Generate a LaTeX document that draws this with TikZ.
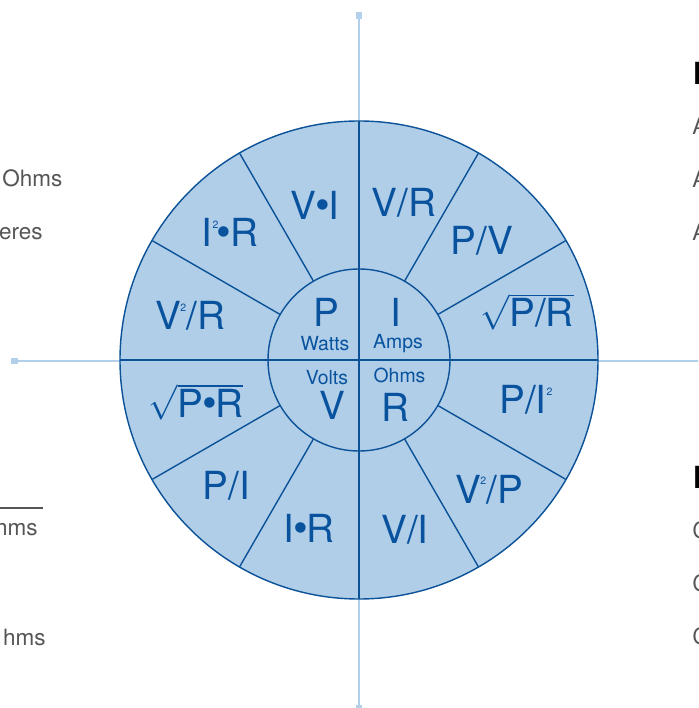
\documentclass[tikz,border=0pt]{standalone}
\usepackage{fontspec}
\setmainfont{TeX Gyre Heros}

\definecolor{wheelfill}{RGB}{176,206,232}
\definecolor{wheelline}{RGB}{12,82,152}
\definecolor{wheeltext}{RGB}{8,82,158}
\definecolor{axisblue}{RGB}{178,208,234}
\definecolor{bodygray}{RGB}{85,85,85}

% little raised 2, centred dot and root for the formulas
\newcommand{\twosup}{\raisebox{13.5pt}{\fontsize{7.5}{7.5}\selectfont 2}}
\newcommand{\blob}{\kern-1pt\raisebox{0pt}{\fontsize{30}{30}\selectfont\textbullet}\kern-1pt}
\newcommand{\rootof}[1]{$\sqrt{\mbox{#1}}$}

\tikzset{
  big/.style={text=wheeltext, anchor=base, inner sep=0pt,
    font=\fontsize{27.5}{27.5}\selectfont},
  unit/.style={text=wheeltext, anchor=base, inner sep=0pt,
    font=\fontsize{13.8}{13.8}\selectfont},
  side/.style={text=bodygray, inner sep=0pt,
    font=\fontsize{16}{16}\selectfont},
  head/.style={text=black, inner sep=0pt, anchor=base west,
    font=\fontsize{21.7}{21.7}\selectfont\bfseries},
  rim/.style={wheelline, line width=1pt}
}

\begin{document}
\begin{tikzpicture}[x=0.025cm,y=0.025cm]

\useasboundingbox (-359,-348) rectangle (339,360);
\clip (-359,-348) rectangle (339,360);

% axes behind the wheel
\draw[axisblue, line width=1.4pt] (0,-350) -- (0,344);
\draw[axisblue, line width=1.4pt] (-345,-1) -- (345,-1);
\fill[axisblue] (-3.4,341.3) rectangle (3.4,348.1);
\fill[axisblue] (-348.1,-4.4) rectangle (-341.3,2.4);
\fill[axisblue] (-3.4,-352) rectangle (3.4,-345);

% the wheel
\draw[rim, fill=wheelfill] (0,0) circle (239);
\foreach \a in {30,60,120,150,210,240,300,330}
  \draw[rim] (\a:91) -- (\a:239);
\draw[rim] (-239,0) -- (239,0);
\draw[rim] (0,-239) -- (0,239);
\draw[rim] (0,0) circle (91);

% centre quarters
\node[big] (p) at (-33,33) {P};
\node[unit] (watts) at (-34,9) {Watts};
\node[big] (i) at (36.5,33) {I};
\node[unit] (amps) at (39,11) {Amps};
\node[unit] (volts) at (-32,-25) {Volts};
\node[big] (v) at (-27,-60) {V};
\node[unit] (ohms) at (40.5,-23) {Ohms};
\node[big] (r) at (36.5,-62) {R};

% outer ring
\node[big] (vi) at (-44,140) {V\blob I};
\node[big] (vr) at (45,143) {V/R};
\node[big] (pv) at (123,105) {P/V};
\node[big] (rpr) at (168,33) {\rootof{P/R}};
\node[big] (pii) at (167,-54) {P/I\twosup};
\node[big] (vvp) at (130,-143) {V\kern-0.3pt\twosup/P};
\node[big] (vi2) at (46,-183) {V/I};
\node[big] (ir) at (-50,-182) {I\blob R};
\node[big] (pi) at (-132.5,-140) {P/I};
\node[big] (rpxr) at (-163,-58) {\rootof{P\blob R}};
\node[big] (vvr) at (-169,30) {V\kern-0.3pt\twosup/R};
\node[big] (iir) at (-129,113) {I\twosup\blob R};

% text running in from the left
\node[side, anchor=base west] (lohms) at (-357,173) {Ohms};
\node[side, anchor=base east] (lamps) at (-316,120) {eres};
\draw[bodygray, line width=1.5pt] (-362,-148) -- (-316,-148);
\node[side, anchor=base east] (lohms2) at (-321,-175) {hms};
\node[side, anchor=base east] (lohms3) at (-313,-285) {hms};

% text running out to the right
\node[head] (htop) at (334,275) {I};
\node[side, anchor=base west] (a1) at (333,225) {A};
\node[side, anchor=base west] (a2) at (333,172) {A};
\node[side, anchor=base west] (a3) at (333,119) {A};
\node[head] (hbot) at (334,-129) {I};
\node[side, anchor=base west] (c1) at (333,-178) {C};
\node[side, anchor=base west] (c2) at (333,-231) {C};
\node[side, anchor=base west] (c3) at (333,-284) {C};

\end{tikzpicture}
\end{document}
